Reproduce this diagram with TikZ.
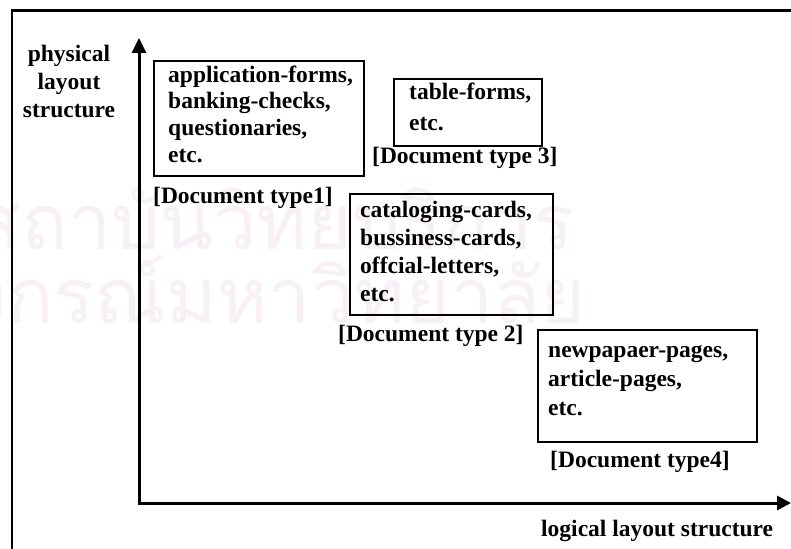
\documentclass[tikz,border=0pt]{standalone}
\usepackage{fontspec}
\setmainfont{Liberation Serif}
\newfontfamily\thaifont[Script=Thai]{Loma}
\usetikzlibrary{arrows.meta}
\definecolor{wmark}{RGB}{247,240,245}
\begin{document}
\begin{tikzpicture}[x=1pt,y=-1pt,
  caption/.style={font=\fontsize{23.5}{#1}\selectfont\bfseries, inner sep=0pt,
    align=left, anchor=base west},
  caption/.default=26,
  typebox/.style={draw, line width=1.6pt, inner sep=0pt, anchor=north west},
  axis/.style={line width=3pt, {Triangle[length=15pt,width=14pt]}-{Triangle[length=14pt,width=14pt]}},
  outer/.style={line width=2.3pt},
  wm/.style={text=wmark, font=\thaifont\fontsize{77}{80}\selectfont, inner sep=0pt, anchor=base east}]
\useasboundingbox (0,0) rectangle (791,548);
\clip (0,0) rectangle (791,548);
\fill[white] (0,0) rectangle (791,548);

% faint background seal text
\node[wm] (wmA) at (574,249) {สถาบันวิทยบริการ};
\node[wm] (wmB) at (586,323) {จุฬาลงกรณ์มหาวิทยาลัย};

% outer frame (runs off the right and bottom edges)
\draw[outer] (12,600) |- (820,10.5);

% axes
\coordinate (ytip) at (139,38);
\coordinate (xtip) at (791,503);
\draw[axis] (ytip) |- (xtip);

% document type boxes
\node[typebox, minimum width=210, minimum height=115] (b1) at (153,60) {};
\node[typebox, minimum width=148, minimum height=67] (b3) at (393,78) {};
\node[typebox, minimum width=203, minimum height=121] (b2) at (349,193) {};
\node[typebox, minimum width=219, minimum height=112] (b4) at (537,329) {};

% box contents (anchored on the baseline of the last line)
\node[caption=26.5] (t1) at (168,162) {application-forms,\\banking-checks,\\questionaries,\\etc.};
\node[caption=31] (t3) at (409,131) {table-forms,\\etc.};
\node[caption=27.7] (t2) at (360,301) {cataloging-cards,\\bussiness-cards,\\offcial-letters,\\etc.};
\node[caption=29] (t4) at (548,415) {newpapaer-pages,\\article-pages,\\etc.};

% type labels
\node[caption] (l1) at (153,203) {[Document type1]};
\node[caption] (l3) at (372,164) {[Document type 3]};
\node[caption] (l2) at (338,341) {[Document type 2]};
\node[caption] (l4) at (550,467) {[Document type4]};

% axis titles
\node[caption=28, align=center, anchor=base] (ylab) at (69,118) {physical\\layout\\structure};
\node[caption] (xlab) at (541,536) {logical layout structure};
\end{tikzpicture}
\end{document}
